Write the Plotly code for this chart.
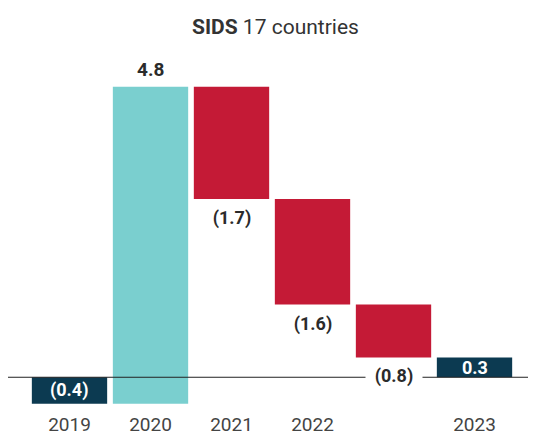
import plotly.graph_objects as go

categories = ["2019", "2020", "2021", "2022", "", "2023"]
changes = [-0.4, 4.8, -1.7, -1.6, -0.8, 0.3]
measures = ["absolute", "relative", "relative", "relative", "relative", "total"]
labels = ["(0.4)", "4.8", "(1.7)", "(1.6)", "(0.8)", "0.3"]

NAVY = "#0c3a51"
TEAL = "#7acfcf"
RED = "#c41a36"
TXT = "#2b2b2b"
FONT = "Roboto"

# compute bases / tops from data
bases, heights, colors = [], [], []
run = 0.0
for m, v in zip(measures, changes):
    if m == "absolute":
        bases.append(min(0, v)); heights.append(abs(v)); colors.append(NAVY); run = v
    elif m == "total":
        bases.append(min(0, v)); heights.append(abs(v)); colors.append(NAVY)
    else:
        new = run + v
        bases.append(min(run, new)); heights.append(abs(v))
        colors.append(TEAL if v > 0 else RED)
        run = new

xs = list(range(len(categories)))
fig = go.Figure(go.Bar(x=xs, y=heights, base=bases, marker=dict(color=colors, line=dict(width=0)),
                       width=0.93, hoverinfo="skip"))

fig.add_shape(type="line", xref="paper", yref="y", x0=-0.045, x1=1.06, y0=0, y1=0,
              line=dict(color="#222", width=1), layer="above")

for i, (m, v, lab) in enumerate(zip(measures, changes, labels)):
    b, h = bases[i], heights[i]
    if m in ("absolute", "total"):
        fig.add_annotation(x=xs[i], y=b + h / 2, text=f"<b>{lab}</b>", showarrow=False,
                           font=dict(family=FONT, size=18, color="white"), yanchor="middle")
    elif v > 0:
        fig.add_annotation(x=xs[i], y=b + h, text=f"<b>{lab}</b>", showarrow=False,
                           font=dict(family=FONT, size=19, color=TXT), yanchor="bottom", yshift=4)
    else:
        fig.add_annotation(x=xs[i], y=b, text=f"<b>{lab}</b>", showarrow=False,
                           font=dict(family=FONT, size=18, color=TXT), yanchor="middle", yshift=-19,
                           bgcolor="white", width=56, borderpad=0)

fig.add_annotation(xref="paper", yref="paper", x=0.5, y=1, yshift=20, xshift=3,
                   text="<b>SIDS</b> 17 countries", showarrow=False,
                   font=dict(family=FONT, size=21, color="#333"), yanchor="middle")

fig.update_layout(
    width=536, height=435,
    margin=dict(l=21, r=29, t=39, b=38),
    plot_bgcolor="white", paper_bgcolor="white",
    showlegend=False, bargap=0.07,
    xaxis=dict(tickvals=xs, ticktext=categories, range=[-0.5, 5.5], showgrid=False,
               zeroline=False, showline=False, ticks="", automargin=False,
               tickfont=dict(family=FONT, size=19, color="#444"), ticklabelstandoff=6),
    yaxis=dict(range=[-0.42, 5.0], visible=False, showgrid=False, zeroline=False,
               automargin=False),
)

fig.write_html("out.html")
